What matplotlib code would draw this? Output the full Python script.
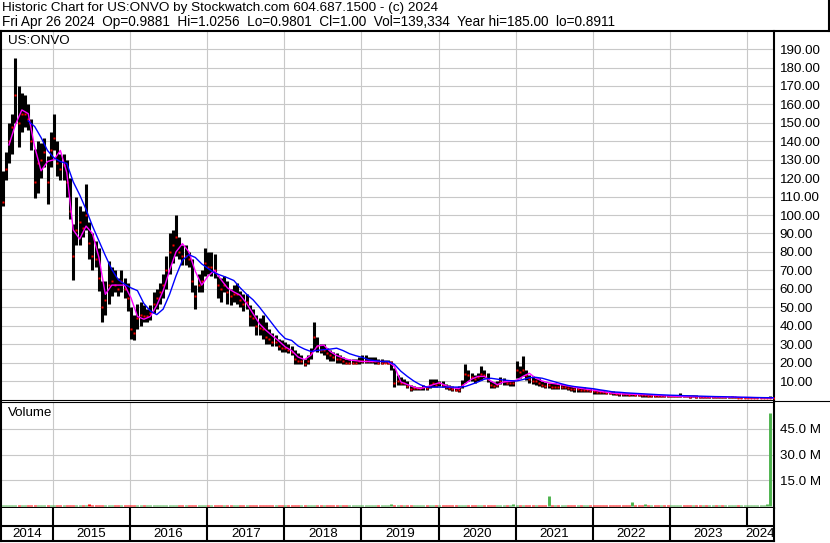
import numpy as np
import matplotlib
matplotlib.use('Agg')
import matplotlib.pyplot as plt
from matplotlib.lines import Line2D

plt.rcParams['font.family'] = ['Liberation Sans', 'DejaVu Sans']

# half-monthly bars, May 2014 .. Apr 2024
high = [124, 134, 150, 155, 185, 170, 166, 165, 160, 152,
        136, 140, 139, 142, 132, 145, 155, 140, 133, 133,
        130, 120, 95, 110, 105, 102, 117, 96, 90, 86,
        82, 64, 64, 75, 72, 70, 66, 70, 66, 63,
        50, 46, 52, 53, 51, 49, 51, 58, 60, 63,
        68, 78, 90, 92, 100, 88, 84, 84, 80, 76,
        62, 68, 70, 82, 80, 80, 79, 67, 66, 67,
        64, 60, 62, 63, 59, 57, 57, 51, 49, 46,
        44, 46, 42, 38, 36, 35, 33, 32, 31, 30,
        29, 27, 25, 24, 22, 24, 28, 42, 34, 30,
        30, 28, 27, 26, 25, 24, 23, 22, 22, 22,
        22, 23, 24, 24, 23, 23, 23, 22, 22, 21.5,
        21.5, 21, 17, 13, 12, 11, 10, 8, 7.5, 7,
        7, 8, 7.5, 11, 11, 11, 10, 10, 8.5, 8,
        7.5, 7, 7.5, 10.7, 19, 16, 14.5, 13.5, 14.5, 18,
        16, 14.5, 10, 9.3, 9.8, 12, 11.6, 10.7, 10.3, 10.7,
        21, 18, 23.5, 16, 13.4, 12.5, 11.6, 11.6, 10, 9.5,
        9, 9, 8.8, 8.5, 8.5, 8, 8, 7.2, 7, 7,
        6.8, 6.5, 6.3, 6, 5.5, 5.3, 5, 5, 4.8, 4.6,
        4.4, 4, 3.8, 3.7, 3.6, 3.6, 3.5, 3.4, 3.3, 3.1,
        3, 2.9, 2.8, 2.7, 2.6, 2.5, 2.5, 2.4, 2.3, 2.3,
        2.4, 3.6, 2.6, 2.3, 2.2, 2.3, 2.2, 2.1, 2, 2,
        1.9, 1.9, 1.6, 1.6, 1.5, 1.5, 1.5, 1.8, 1.5, 1.4,
        1.4, 1.4, 1.4, 1.4, 1.3, 1.3, 1.3, 1.3, 1.3, 2.0,
        1.1]
low = [105, 119, 128, 133, 150, 137, 145, 148, 146, 135,
       109, 112, 120, 126, 106, 126, 135, 121, 119, 119,
       110, 98, 65, 84, 84, 88, 92, 76, 70, 72,
       59, 42, 46, 52, 56, 58, 56, 58, 55, 48,
       33, 32, 38, 40, 42, 42, 43, 47, 49, 52,
       55, 60, 68, 74, 78, 76, 73, 73, 72, 58,
       49, 58, 58, 67, 68, 67, 66, 55, 53, 58,
       52, 51, 53, 52, 50, 48, 49, 40, 40, 35,
       35, 33, 30, 30, 29, 29, 27, 26, 26, 25,
       24, 19, 19, 19, 18, 19, 22, 27, 26, 25,
       24, 22, 21, 21, 20, 20, 19, 19, 19, 19,
       19, 19, 20, 20, 20, 20, 19, 19, 19, 19.5,
       19, 16, 7, 8, 8, 8, 6.2, 4.7, 5.3, 5,
       5, 5.3, 5, 6, 7, 7, 7.5, 6.7, 5.6, 5,
       4.4, 4.4, 3.8, 6.2, 9, 10, 10, 9, 10, 10.7,
       11.5, 9.5, 6.2, 6.2, 7, 8.5, 8, 8, 7.5, 7.5,
       11.5, 11.6, 12.5, 10.7, 8.9, 8.5, 8, 7.5, 6.5, 6.3,
       6, 5.5, 5.5, 5.5, 5.4, 5.4, 5, 4.5, 4.3, 4.2,
       4, 4, 4, 3.8, 3.2, 3, 3, 2.8, 2.8, 2.7,
       2.6, 2.2, 2.1, 2, 2, 1.9, 1.9, 1.8, 1.8, 1.5,
       1.5, 1.4, 1.3, 1.3, 1.2, 1.2, 1.1, 1.1, 1.1, 1.1,
       1.2, 1.3, 1.2, 1.1, 1, 1.1, 1, 1, 0.9, 0.9,
       0.9, 0.8, 0.8, 0.8, 0.8, 0.7, 0.7, 0.8, 0.7, 0.7,
       0.7, 0.7, 0.7, 0.7, 0.7, 0.7, 0.7, 0.8, 0.8, 0.9,
       0.9]
close = [107, 125, 140, 148, 165, 150, 155, 155, 152, 140,
         118, 128, 130, 134, 118, 135, 142, 128, 125, 127,
         118, 102, 78, 92, 96, 93, 100, 85, 78, 76,
         66, 50, 54, 62, 64, 62, 60, 64, 60, 55,
         38, 36, 44, 46, 45, 45, 47, 52, 55, 58,
         62, 70, 80, 84, 88, 80, 78, 78, 76, 64,
         56, 62, 64, 74, 72, 72, 70, 62, 60, 62,
         58, 56, 57, 57, 54, 52, 53, 45, 44, 40,
         39, 38, 34, 33, 31, 31, 29, 28, 28, 27,
         26, 22, 21, 21, 19, 21, 25, 34, 29, 27,
         27, 25, 24, 23, 22, 22, 21, 20, 20, 20,
         20, 21, 21, 21, 21, 21, 21, 20, 20, 20,
         20, 20.5, 9, 10, 9, 9, 7.5, 5.5, 6, 6,
         6, 6.5, 6, 8, 9, 8, 9, 8, 7, 6,
         5.5, 5, 5, 8, 14, 13, 12, 11, 12, 14,
         13, 11, 8, 7.5, 8, 10, 10, 9, 9, 9,
         16, 15, 16, 13, 11, 10, 10, 9, 8, 7.5,
         7.8, 7, 7, 6.5, 6.5, 6.5, 6, 5.8, 5.5, 5.5,
         5, 5, 5, 4.8, 4.5, 4.2, 4, 3.8, 3.6, 3.5,
         3.3, 3, 2.9, 2.8, 2.7, 2.6, 2.7, 2.4, 2.3, 2.2,
         2.3, 2, 2, 1.9, 1.8, 1.8, 1.7, 1.6, 1.6, 1.6,
         1.7, 2, 1.8, 1.6, 1.5, 1.6, 1.5, 1.4, 1.4, 1.3,
         1.3, 1.3, 1.2, 1.2, 1.1, 1.1, 1.1, 1.2, 1.2, 1.0,
         1.0, 1.0, 1.0, 1.0, 1.0, 1.0, 1.0, 1.0, 1.0, 1.05,
         1.0]
# volume in millions
volume = [0.8, 0.7, 0.8, 0.9, 0.9, 0.8, 0.7, 0.7, 0.6, 0.7,
          0.8, 0.7, 0.6, 0.6, 0.8, 0.7, 0.7, 0.6, 0.6, 0.6,
          0.7, 0.8, 0.9, 0.7, 0.6, 0.6, 0.7, 1.2, 0.7, 0.6,
          0.7, 0.8, 0.7, 0.6, 0.6, 0.6, 0.6, 0.6, 0.6, 0.7,
          0.8, 0.7, 0.6, 0.6, 0.6, 0.6, 0.6, 0.6, 0.6, 0.6,
          0.6, 0.7, 0.7, 0.7, 0.8, 0.7, 0.6, 0.6, 0.6, 0.7,
          0.7, 0.6, 0.6, 0.6, 0.6, 0.6, 0.6, 0.6, 0.6, 0.6,
          0.6, 0.6, 0.6, 0.6, 0.6, 0.6, 0.6, 0.7, 0.6, 0.6,
          0.6, 0.6, 0.6, 0.6, 0.6, 0.6, 0.6, 0.6, 0.6, 0.6,
          0.6, 0.7, 0.6, 0.6, 0.6, 0.6, 0.7, 0.9, 0.7, 0.6,
          0.6, 0.6, 0.6, 0.6, 0.6, 0.6, 0.6, 0.6, 0.6, 0.6,
          0.6, 0.6, 0.6, 0.6, 0.6, 0.6, 0.6, 0.6, 0.6, 0.6,
          0.6, 1.3, 0.9, 0.7, 0.6, 0.6, 0.6, 0.6, 0.6, 0.6,
          0.6, 0.6, 0.6, 0.7, 0.6, 0.6, 0.6, 0.6, 0.6, 0.6,
          0.6, 0.6, 0.6, 0.7, 0.9, 0.7, 0.6, 0.6, 0.6, 0.8,
          0.7, 0.6, 0.6, 0.6, 0.6, 0.8, 0.6, 0.6, 0.6, 1.2,
          0.9, 0.8, 0.9, 1.0, 0.7, 0.6, 0.6, 0.6, 0.6, 0.6,
          6.3, 0.7, 0.6, 0.6, 0.6, 0.6, 0.6, 0.6, 0.6, 0.6,
          0.6, 0.6, 0.6, 0.6, 0.6, 0.6, 0.6, 0.6, 0.6, 0.6,
          0.6, 0.6, 0.6, 0.6, 0.6, 0.6, 2.4, 0.6, 0.6, 0.6,
          1.4, 0.6, 0.6, 0.6, 0.6, 0.6, 0.6, 0.6, 0.6, 0.6,
          0.9, 0.7, 0.6, 0.6, 0.6, 0.6, 0.6, 0.6, 0.6, 0.6,
          0.6, 0.6, 0.6, 0.6, 0.6, 0.6, 0.6, 0.6, 0.9, 0.6,
          0.8, 0.6, 0.6, 0.6, 0.6, 0.6, 0.6, 0.6, 1.2, 53.7,
          0.8]
# moving averages, one value a month
ma_short = [138, 149, 157, 155, 137, 124, 129, 130, 135, 123,
            92, 87, 94, 90, 77, 57, 62, 62, 62, 55,
            45, 43.5, 45, 51, 59, 70, 80, 84.5, 80, 69.5,
            62, 67, 70, 65, 60.5, 58.3, 56.5, 52, 46.5, 41,
            37.5, 34.5, 31.7, 28.5, 26.5, 23, 21.6, 24, 29, 29.5,
            26, 23.8, 22.5, 21.4, 21, 20.6, 20.6, 20.6, 20.6, 20.5,
            17.9, 9.5, 8.1, 6.7, 5.9, 6.8, 8, 9.1, 7.5, 6.4,
            5.8, 8.5, 11, 12.5, 12.5, 10, 8, 9.5, 9.8, 10.4,
            12.5, 14.2, 11.5, 10, 9, 8.5, 7.9, 7.3, 6.6, 6,
            5.5, 5, 4.4, 3.9, 3.4, 3.1, 2.9, 2.8, 2.7, 2.6,
            2.4, 2.2, 2, 1.8, 1.7, 1.6, 1.55, 1.5, 1.45, 1.4,
            1.35, 1.3, 1.25, 1.2, 1.1, 1.05, 1.0, 0.95, 0.9, 0.9]
ma_long = [151, 148, 142, 135, 131, 129, 128, 118, 111, 103,
           94, 86, 78, 70.5, 65, 62.5, 60.5, 59, 52, 48,
           46, 49, 57, 67, 75.5, 78.5, 77, 73.5, 71, 68.6,
           67.3, 66, 64.5, 60.5, 57, 54, 50, 45.5, 41, 36.5,
           33, 32, 29, 27.3, 26, 26.6, 27, 27.3, 27.8, 26.5,
           24.8, 23.7, 22.8, 21.5, 21, 20.6, 20.6, 19, 15.3, 12.5,
           10, 8, 6.7, 6.7, 6.7, 6.7, 6.7, 6.7, 7, 8.2,
           9.5, 11, 11.5, 11, 10.5, 10.2, 10, 10.8, 11.8, 12,
           11.5, 10.5, 9.5, 8.5, 7.6, 7, 6.6, 6.2, 5.8, 5.2,
           4.7, 4.1, 3.9, 3.6, 3.4, 3.2, 3, 2.8, 2.6, 2.45,
           2.3, 2.2, 2.05, 1.95, 1.85, 1.75, 1.65, 1.55, 1.5, 1.4,
           1.3, 1.2, 1.15, 1.05, 1.0, 0.95, 0.9]
years = list(range(2014, 2025))
price_ticks = list(range(10, 200, 10))
vol_ticks = [15, 30, 45]

W, H = 830, 543
def box(x0, y0, x1, y1):
    return [x0 / W, 1 - y1 / H, (x1 - x0) / W, (y1 - y0) / H]

t = 2014.345 + np.arange(len(high)) / 24
t_short = t[2::2][:len(ma_short)]
t_long = t[8::2][:len(ma_long)]
x_lo, x_hi = 2014.325, 2024.351
grid_c = '#c8c8c8'
black_w = 1.5
fs = 9.6

fig = plt.figure(figsize=(8.3, 5.43), dpi=100)
fig.patch.set_facecolor('white')

# price panel
ax = fig.add_axes(box(1, 31, 774, 400))
ax.set_xlim(x_lo, x_hi)
ax.set_ylim(-0.3, 199.8)
ax.set_yticks(price_ticks)
ax.set_yticklabels(['%.2f' % v for v in price_ticks])
ax.set_xticks(years[1:])
ax.tick_params(axis='x', length=0, labelbottom=False)
ax.yaxis.tick_right()
ax.tick_params(axis='y', length=0, pad=4, labelsize=fs)
ax.grid(True, color=grid_c, lw=0.8)
ax.set_axisbelow(True)
ax.vlines(t, low, high, color='black', lw=2.2, zorder=2)
ax.plot(t, close, ls='none', marker='s', ms=2.0, color='red', mec='none', zorder=3)
ax.plot(t_short, ma_short, color='#ff00ff', lw=1.0, zorder=4)
ax.plot(t_long, ma_long, color='#0000ff', lw=1.0, zorder=5)
ax.spines['top'].set_visible(False)
ax.spines['left'].set_linewidth(black_w)
ax.spines['right'].set_linewidth(black_w)
ax.spines['bottom'].set_linewidth(0.8)
ax.text(0.009, 0.972, 'US:ONVO', transform=ax.transAxes, fontsize=fs, va='center')

# volume panel
av = fig.add_axes(box(1, 402, 774, 508))
av.set_xlim(x_lo, x_hi)
av.set_ylim(-0.87, 60.3)
av.set_yticks(vol_ticks)
av.set_yticklabels(['%.1f M' % v for v in vol_ticks])
av.set_xticks(years[1:])
av.tick_params(axis='x', length=0, labelbottom=False)
av.yaxis.tick_right()
av.tick_params(axis='y', length=0, pad=4, labelsize=fs)
av.grid(True, color=grid_c, lw=0.8)
av.set_axisbelow(True)
vcol = ['#4db34d' if i == 0 or close[i] >= close[i - 1] else '#ff0000' for i in range(len(close))]
av.vlines(t, 0, volume, colors=vcol, lw=2.1)
av.spines['top'].set_linewidth(0.8)
av.spines['left'].set_linewidth(black_w)
av.spines['right'].set_linewidth(black_w)
av.spines['bottom'].set_linewidth(black_w)
av.text(0.009, 0.9, 'Volume', transform=av.transAxes, fontsize=fs, va='center')

# year strip
ad = fig.add_axes(box(1, 508, 774, 541))
ad.set_xlim(x_lo, x_hi)
ad.set_ylim(0, 1)
ad.set_xticks([])
ad.set_yticks([])
for s in ad.spines.values():
    s.set_linewidth(black_w)
ad.spines['top'].set_visible(False)
ad.axhline(0.455, color='black', lw=black_w)
for y in years[1:]:
    ad.axvline(y, ymin=0.455, ymax=1, color='black', lw=black_w)
    if y < 2024:
        ad.axvline(y, ymin=0, ymax=0.455, color='black', lw=black_w)
for y in years:
    a = max(y, x_lo)
    b = min(y + 1, x_hi)
    ad.text((a + b) / 2, 0.2, str(y), ha='center', va='center', fontsize=fs)

# header
fig.add_artist(Line2D([0, 1], [1 - 30.5 / H] * 2, transform=fig.transFigure, color='black', lw=black_w))
fig.add_artist(Line2D([828.5 / W] * 2, [1, 1 - 31 / H], transform=fig.transFigure, color='black', lw=black_w))
fig.add_artist(Line2D([774 / W, 1], [1 - 400.5 / H] * 2, transform=fig.transFigure, color='black', lw=0.8))
fig.text(2 / W, 1 - 11 / H, 'Historic Chart for US:ONVO by Stockwatch.com 604.687.1500 - (c) 2024',
         fontsize=9.7, va='baseline')
fig.text(2 / W, 1 - 25.8 / H,
         'Fri Apr 26 2024  Op=0.9881  Hi=1.0256  Lo=0.9801  Cl=1.00  Vol=139,334  Year hi=185.00  lo=0.8911',
         fontsize=9.8, va='baseline')

fig.savefig('out.png', dpi=100)
